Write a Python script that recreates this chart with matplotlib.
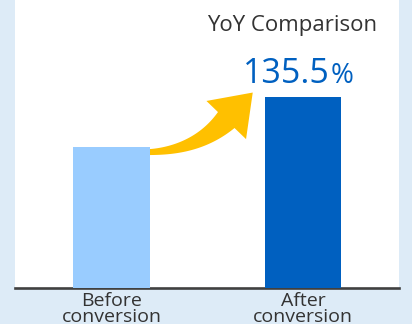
import matplotlib
matplotlib.use("Agg")
import numpy as np
import matplotlib.pyplot as plt
from matplotlib.patches import Polygon
from matplotlib.transforms import IdentityTransform

# Chart data
categories = ["Before\nconversion", "After\nconversion"]
values = [100.0, 135.5]
bar_colors = ["#99CCFF", "#0060C0"]
title_text = "YoY Comparison"
ratio_label = "135.5"
ratio_unit = "%"

plt.rcParams["font.family"] = ["Open Sans", "DejaVu Sans"]

fig = plt.figure(figsize=(4.12, 3.24), dpi=100)
fig.patch.set_facecolor("#DDEBF7")
ax = fig.add_axes([15 / 412, 36.5 / 324, 384 / 412, 287.5 / 324])
ax.set_facecolor("white")

x = list(range(len(categories)))
bar_w = 0.40
ax.bar(x, values, width=bar_w, color=bar_colors, zorder=3)
ax.set_xlim(-0.504, 1.501)
ax.set_ylim(0, 204)

for side in ("top", "left", "right"):
    ax.spines[side].set_visible(False)
ax.spines["bottom"].set_color("#404040")
ax.spines["bottom"].set_linewidth(1.9)
ax.set_yticks([])
ax.set_xticks(x)
ax.set_xticklabels(categories, fontsize=14, color="#333333", linespacing=0.9)
ax.tick_params(axis="x", length=0, pad=3)


def growth_arrow(ax, start, end):
    """Curved, widening arrow drawn in pixel space between two data anchors."""
    a = ax.transData.transform(start)
    b = ax.transData.transform(end)
    p0 = a + np.array([0.0, -5.5])
    tip = b + np.array([-12.0, 4.0])
    neck = b + np.array([-38.5, -23.5])
    d = (tip - neck) / np.linalg.norm(tip - neck)
    t = (neck[1] - p0[1] - 2.0) / d[1]
    ctrl = neck - d * t
    s = np.linspace(0, 1, 60)[:, None]
    pts = (1 - s) ** 2 * p0 + 2 * (1 - s) * s * ctrl + s ** 2 * neck
    tan = 2 * (1 - s) * (ctrl - p0) + 2 * s * (neck - ctrl)
    tan /= np.linalg.norm(tan, axis=1, keepdims=True)
    nrm = np.column_stack([-tan[:, 1], tan[:, 0]])
    w = 6.0 + 17.0 * s ** 1.3
    upper = pts + nrm * w / 2
    lower = pts - nrm * w / 2
    hn = np.array([-d[1], d[0]])
    head = np.array([neck + hn * 27.5, tip, neck - hn * 27.5])
    poly = np.vstack([upper, head, lower[::-1]])
    ax.add_patch(Polygon(poly, closed=True, transform=IdentityTransform(),
                         facecolor="#FFC000", edgecolor="none", zorder=2))


fig.canvas.draw()
growth_arrow(ax, (x[0] + bar_w / 2, values[0]), (x[1] - bar_w / 2, values[1]))

# Ratio label above the second bar
num = ax.annotate(ratio_label, xy=(x[1], values[1]), xytext=(-17, 14),
                  textcoords="offset pixels", ha="center", va="baseline",
                  fontsize=24.5, color="#0060C0")
fig.canvas.draw()
bb = num.get_window_extent()
x_anchor = ax.transData.transform((x[1], values[1]))[0]
ax.annotate(ratio_unit, xy=(x[1], values[1]), xytext=(bb.x1 - x_anchor + 1, 14),
            textcoords="offset pixels", ha="left", va="baseline",
            fontsize=20, color="#0060C0")

fig.text(292 / 412, 1 - 31.5 / 324, title_text, ha="center", va="baseline",
         fontsize=16, color="#333333")

fig.savefig("out.png", dpi=100, facecolor=fig.get_facecolor())
